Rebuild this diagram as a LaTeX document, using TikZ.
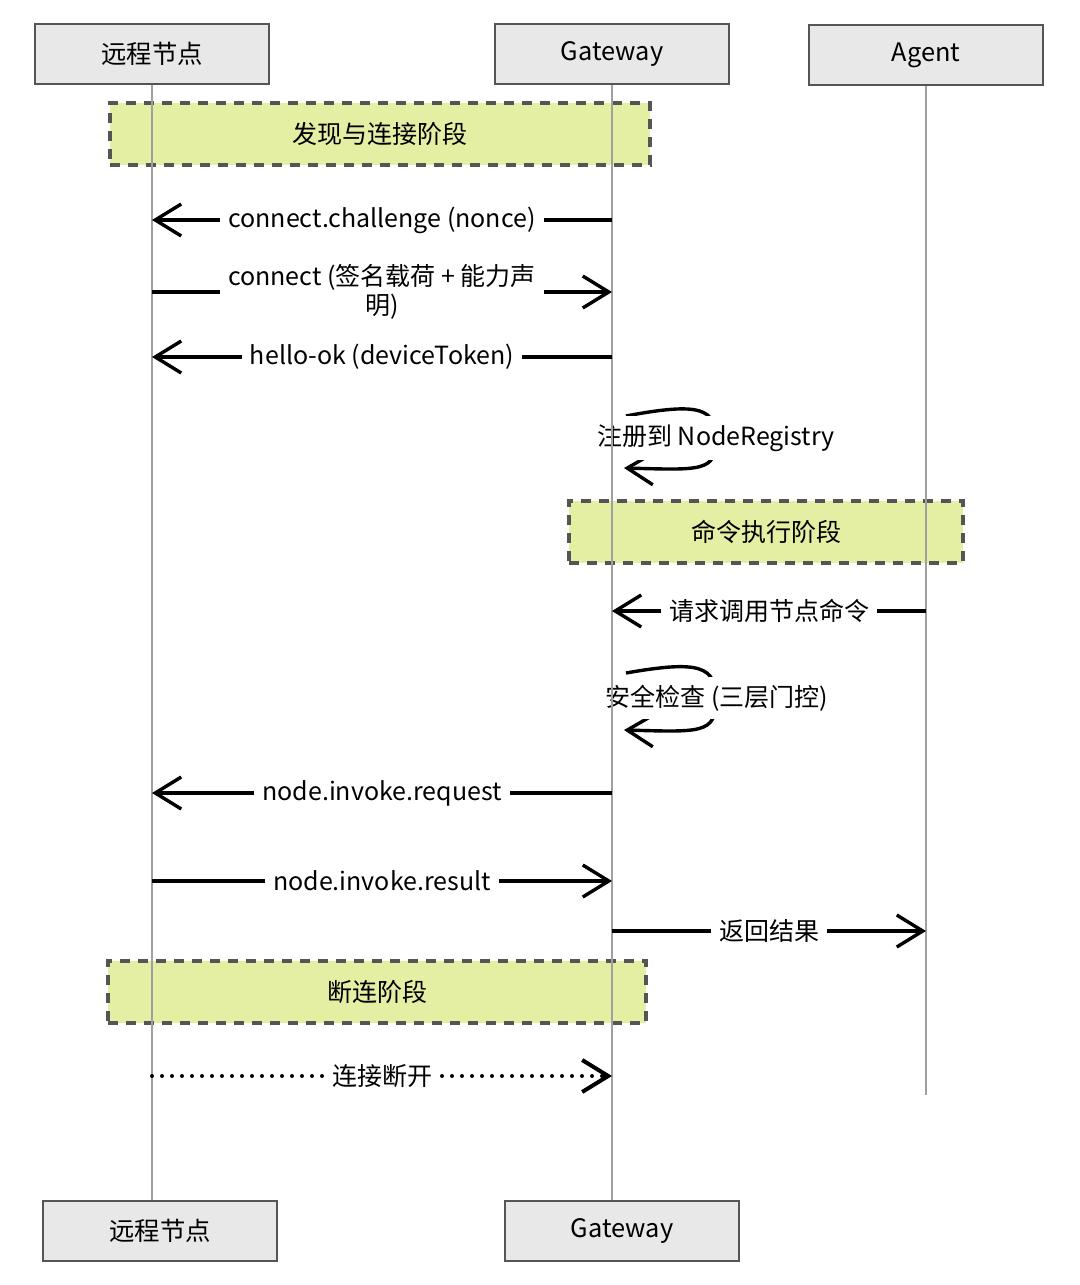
\documentclass[tikz,border=0pt]{standalone}
\usepackage{fontspec}
\setmainfont{Noto Sans CJK SC}
\usetikzlibrary{arrows.meta, positioning, calc}

\definecolor{boxgray}{HTML}{E8E8E8}
\definecolor{edgegray}{HTML}{555555}
\definecolor{phasegreen}{HTML}{E5EFA3}
\definecolor{lifegray}{HTML}{A0A0A0}

\begin{document}
\begin{tikzpicture}[x=0.5pt, y=-0.5pt]
        \tikzstyle{actor} = [rectangle, draw=edgegray, line width=1.4pt, fill=boxgray, minimum width=117pt, minimum height=30pt, font=\fontsize{12.7}{15}\selectfont]
        \tikzstyle{phase} = [rectangle, draw=edgegray, dash pattern=on 5pt off 4pt, line width=1.6pt, fill=phasegreen, minimum height=31pt, font=\fontsize{12.5}{15}\selectfont]
        \tikzstyle{msg} = [draw, line width=1.7pt, -{Straight Barb[length=13pt, width=16pt]}]
        \tikzstyle{lbl} = [fill=white, inner sep=4pt, align=center, font=\fontsize{12.5}{14.5}\selectfont]
        \tikzstyle{life} = [draw=lifegray, line width=0.7pt]

        \useasboundingbox (0,0) rectangle (1080,1285);

        % participants
        \node [actor] (rtop) at (152,54) {远程节点};
        \node [actor] (gtop) at (612,54) {Gateway};
        \node [actor] (atop) at (926,55) {Agent};
        \node [actor] (rbot) at (160,1231) {远程节点};
        \node [actor] (gbot) at (622,1231) {Gateway};

        % phases
        \node [phase, minimum width=270pt] (ph1) at (380,134) {发现与连接阶段};
        \node [phase, minimum width=197pt] (ph2) at (766,532) {命令执行阶段};
        \node [phase, minimum width=269pt] (ph3) at (377,992) {断连阶段};

        % self calls on the gateway
        \path [msg] ($(gtop |- 0,416)+(14,0)$) .. controls (700,402) and (716,408) .. (716,440) .. controls (716,472) and (700,470) .. ($(gtop |- 0,468)+(12,0)$);
        \node [lbl] (reg) at (716,438) {注册到 NodeRegistry};
        \path [msg] ($(gtop |- 0,673)+(14,0)$) .. controls (700,660) and (716,666) .. (716,700) .. controls (716,734) and (700,732) .. ($(gtop |- 0,730)+(12,0)$);
        \node [lbl] (sec) at (717,698) {安全检查 (三层门控)};

        % lifelines
        \path [life] (rtop) -- (rtop |- rbot.north);
        \path [life] (gtop) -- (gtop |- gbot.north);
        \path [life] (atop) -- (atop |- 0,1095);
        \node [actor] at (rtop) {远程节点};
        \node [actor] at (gtop) {Gateway};
        \node [actor] at (atop) {Agent};

        % messages
        \path [msg] (gtop |- 0,220) -- node [lbl] {connect.challenge (nonce)} (rtop |- 0,220);
        \path [msg] (rtop |- 0,292) -- node [lbl] {connect (签名载荷 + 能力声\\明)} (gtop |- 0,292);
        \path [msg] (gtop |- 0,357) -- node [lbl] {hello-ok (deviceToken)} (rtop |- 0,357);
        \path [msg] (atop |- 0,611) -- node [lbl] {请求调用节点命令} (gtop |- 0,611);
        \path [msg] (gtop |- 0,793) -- node [lbl] {node.invoke.request} (rtop |- 0,793);
        \path [msg] (rtop |- 0,881) -- node [lbl] {node.invoke.result} (gtop |- 0,881);
        \path [msg] (gtop |- 0,931) -- node [lbl] {返回结果} (atop |- 0,931);
        \path [msg, line width=2pt, line cap=round, dash pattern=on 0pt off 5pt] (rtop |- 0,1076) -- node [lbl] {连接断开} (gtop |- 0,1076);
    \end{tikzpicture}
\end{document}
